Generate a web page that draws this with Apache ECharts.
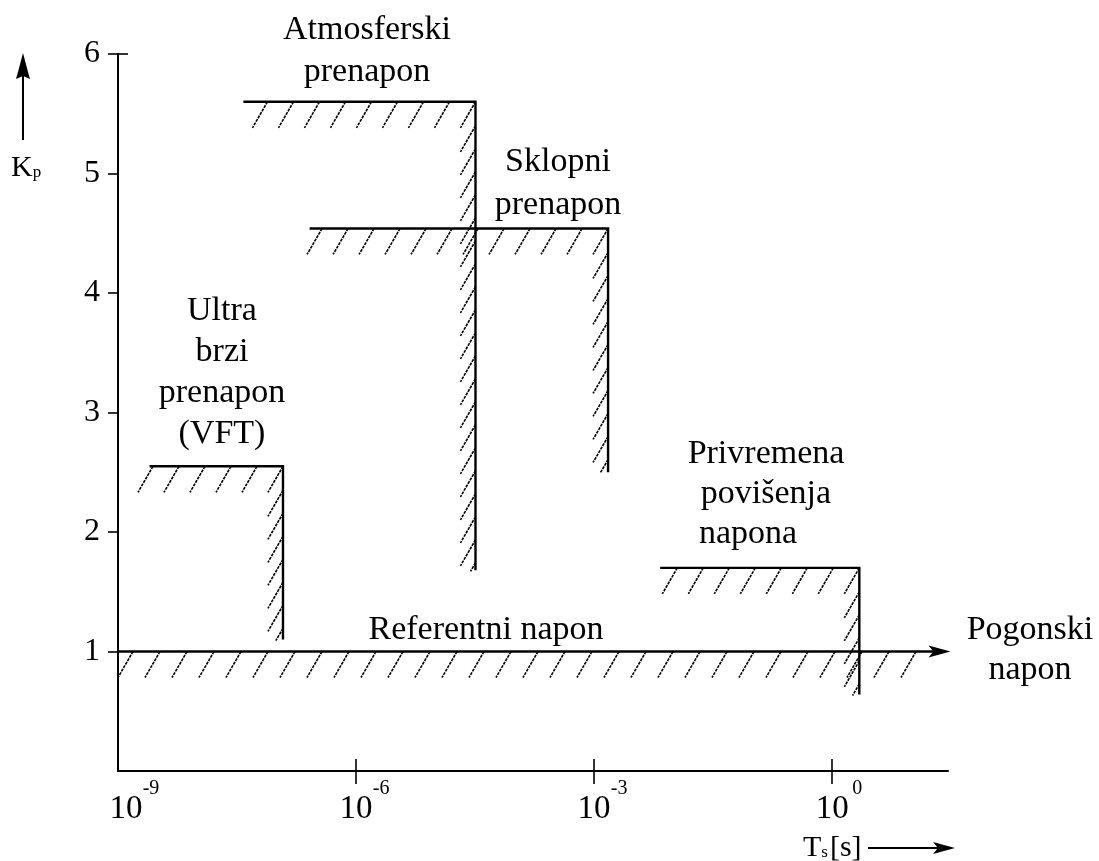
<!DOCTYPE html>
<html>
<head>
<meta charset="utf-8">
<script src="https://cdn.jsdelivr.net/npm/echarts@6/dist/echarts.min.js"></script>
<style>
  html, body { margin: 0; padding: 0; background: #fff; }
  #chart { width: 1099px; height: 861px; }
</style>
</head>
<body>
<div id="chart"></div>
<script>
const SERIF = '"Liberation Serif", "Times New Roman", serif';

// Kp ticks and time decades (exponents of 10, in seconds)
const kpTicks = [1, 2, 3, 4, 5, 6];
const timeDecades = [-9, -6, -3, 0];
const timeMaxExp = 1.46;

// Overvoltage regions: a level Kp held from tStart to tEnd, then a drop down to kpBottom
const regionNames = ['Ultra brzi prenapon (VFT)', 'Atmosferski prenapon', 'Sklopni prenapon', 'Privremena povišenja napona'];
const regionKp = [2.55, 5.6, 4.54, 1.7];
const regionStart = [2.5e-9, 3.8e-8, 2.6e-7, 6.8e-3];
const regionEnd = [1.2e-7, 3.2e-5, 1.5e-3, 2.2];
const regionBottom = [1.1, 1.68, 2.5, 0.64];

// Reference (operating) voltage line
const refKp = 1;
const refStart = 1e-9;
const refEnd = 31;
const refHatchEnd = 15;

const HATCH_DX = -15, HATCH_DY = 26;
const hatchStyle = { stroke: '#000', lineWidth: 1.6, lineDash: [3, 1] };
const mainStyle = { stroke: '#000', lineWidth: 2.4, fill: null };

// one short slanted hatch stroke, optionally cut at a lower limit
function hatchLine(x, y, yLimit) {
  let k = 1;
  if (yLimit !== undefined && y + HATCH_DY > yLimit) k = Math.max(0, (yLimit - y) / HATCH_DY);
  return {
    type: 'line',
    shape: { x1: x, y1: y, x2: x + HATCH_DX * k, y2: y + HATCH_DY * k },
    style: hatchStyle, silent: true
  };
}

function renderRegion(params, api) {
  const p0 = api.coord([api.value(0), api.value(1)]);
  const p1 = api.coord([api.value(2), api.value(1)]);
  const p2 = api.coord([api.value(2), api.value(3)]);
  const children = [];
  for (let x = p1[0]; x >= p0[0] - 1; x -= 26) children.push(hatchLine(x, p1[1]));
  for (let y = p1[1] + 24; y <= p2[1] - 6; y += 23) children.push(hatchLine(p1[0], y, p2[1] + 1));
  children.push({ type: 'polyline', shape: { points: [p0, p1, p2] }, style: mainStyle, silent: true });
  return { type: 'group', children };
}

function renderReference(params, api) {
  const p0 = api.coord([api.value(0), api.value(1)]);
  const p1 = api.coord([api.value(2), api.value(1)]);
  const ph = api.coord([api.value(3), api.value(1)]);
  const children = [];
  for (let x = p0[0] + 2; x <= ph[0]; x += 27) children.push(hatchLine(x + 13, p0[1]));
  const tip = p1[0], y = p1[1];
  children.push({ type: 'line', shape: { x1: p0[0], y1: y, x2: tip - 8, y2: y }, style: mainStyle, silent: true });
  children.push({
    type: 'polygon',
    shape: { points: [[tip, y], [tip - 22, y - 6], [tip - 17, y], [tip - 22, y + 6]] },
    style: { fill: '#000' }, silent: true
  });
  return { type: 'group', children };
}

function decadeLabel(v) {
  const pad = v === -9 ? 'padWide' : 'pad';
  return '{' + pad + '|}{b|10}{s|' + v + '}';
}

const chart = echarts.init(document.getElementById('chart'), null, { renderer: 'canvas' });

const axisLineStyle = { color: '#000', width: 2 };

const option = {
  backgroundColor: '#fff',
  animation: false,
  grid: { left: 118, right: 151, top: 54, bottom: 90 },
  xAxis: [
    {
      type: 'value', min: -9, max: timeMaxExp, interval: 3,
      axisLine: { show: true, onZero: false, lineStyle: axisLineStyle },
      axisTick: { show: true, inside: false, length: 13, lineStyle: { color: '#000', width: 1.6 }, customValues: timeDecades.slice(1) },
      splitLine: { show: false },
      axisLabel: {
        show: true, margin: 8, customValues: timeDecades,
        formatter: decadeLabel,
        rich: {
          pad: { width: 17 },
          padWide: { width: 33 },
          b: { fontFamily: SERIF, fontSize: 33, color: '#000', lineHeight: 47, verticalAlign: 'bottom' },
          s: { fontFamily: SERIF, fontSize: 20, color: '#000', lineHeight: 22, width: 17, align: 'left', verticalAlign: 'top' }
        }
      }
    },
    {
      type: 'value', min: -9, max: timeMaxExp, interval: 3, position: 'bottom',
      axisLine: { show: false, onZero: false },
      axisTick: { show: true, inside: true, length: 12, lineStyle: { color: '#000', width: 1.6 }, customValues: timeDecades.slice(1) },
      axisLabel: { show: false },
      splitLine: { show: false }
    }
  ],
  yAxis: [
    {
      type: 'value', min: 0, max: 6, interval: 1,
      axisLine: { show: true, onZero: false, lineStyle: axisLineStyle },
      axisTick: { show: true, inside: false, length: 10, lineStyle: { color: '#000', width: 1.6 }, customValues: kpTicks },
      splitLine: { show: false },
      axisLabel: { show: true, margin: 18, customValues: kpTicks, fontFamily: SERIF, fontSize: 32, color: '#000' }
    },
    {
      type: 'value', min: 0, max: 6, interval: 1, position: 'left',
      axisLine: { show: false, onZero: false },
      axisTick: { show: true, inside: true, length: 10, lineStyle: { color: '#000', width: 1.6 }, customValues: [6] },
      axisLabel: { show: false },
      splitLine: { show: false }
    }
  ],
  series: [
    {
      type: 'custom',
      name: 'regions',
      clip: false,
      renderItem: renderRegion,
      encode: { x: [0, 2], y: [1, 3] },
      data: regionKp.map((k, i) => ({
        name: regionNames[i],
        value: [Math.log10(regionStart[i]), k, Math.log10(regionEnd[i]), regionBottom[i]]
      }))
    },
    {
      type: 'custom',
      name: 'Referentni napon',
      clip: false,
      renderItem: renderReference,
      encode: { x: [0, 2], y: [1] },
      data: [[Math.log10(refStart), refKp, Math.log10(refEnd), Math.log10(refHatchEnd)]]
    }
  ],
  graphic: [
    // Kp arrow and name
    { type: 'line', shape: { x1: 23, y1: 140, x2: 23, y2: 70 }, style: { stroke: '#000', lineWidth: 2 } },
    { type: 'polygon', shape: { points: [[23, 53], [28, 72], [30, 79], [23, 76], [16, 79], [18, 72]] }, style: { fill: '#000' } },
    {
      type: 'text', x: 11, y: 168,
      style: {
        text: '{k|K}{p|p}', textVerticalAlign: 'middle',
        rich: { k: { fontFamily: SERIF, fontSize: 30, fill: '#000' }, p: { fontFamily: SERIF, fontSize: 17, fill: '#000', padding: [10, 0, 0, 0] } }
      }
    },
    // Ts [s] arrow and name
    {
      type: 'text', x: 803, y: 848,
      style: {
        text: '{t|T}{s|s}{b|[s]}', textVerticalAlign: 'middle',
        rich: {
          t: { fontFamily: SERIF, fontSize: 30, fill: '#000' },
          s: { fontFamily: SERIF, fontSize: 17, fill: '#000', padding: [10, 2, 0, 0] },
          b: { fontFamily: SERIF, fontSize: 30, fill: '#000' }
        }
      }
    },
    { type: 'line', shape: { x1: 868, y1: 848, x2: 940, y2: 848 }, style: { stroke: '#000', lineWidth: 2 } },
    { type: 'polygon', shape: { points: [[955, 848], [933, 842], [938, 848], [933, 854]] }, style: { fill: '#000' } },
    // Region captions
    { type: 'text', x: 367, y: 9, style: { text: 'Atmosferski\nprenapon', font: '34px ' + SERIF, lineHeight: 42, textAlign: 'center', fill: '#000' } },
    { type: 'text', x: 558, y: 141, style: { text: 'Sklopni\nprenapon', font: '34px ' + SERIF, lineHeight: 43, textAlign: 'center', fill: '#000' } },
    { type: 'text', x: 222, y: 291, style: { text: 'Ultra\nbrzi\nprenapon\n(VFT)', font: '34px ' + SERIF, lineHeight: 41, textAlign: 'center', fill: '#000' } },
    { type: 'text', x: 766, y: 434, style: { text: 'Privremena\npovišenja', font: '34px ' + SERIF, lineHeight: 40, textAlign: 'center', fill: '#000' } },
    { type: 'text', x: 748, y: 514, style: { text: 'napona', font: '34px ' + SERIF, lineHeight: 40, textAlign: 'center', fill: '#000' } },
    { type: 'text', x: 486, y: 610, style: { text: 'Referentni napon', font: '34px ' + SERIF, lineHeight: 40, textAlign: 'center', fill: '#000' } },
    { type: 'text', x: 1030, y: 610, style: { text: 'Pogonski\nnapon', font: '34px ' + SERIF, lineHeight: 40, textAlign: 'center', fill: '#000' } }
  ]
};

chart.setOption(option);
</script>
</body>
</html>
